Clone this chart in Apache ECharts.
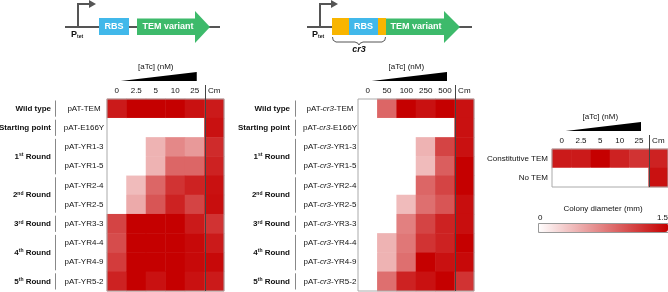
<!DOCTYPE html>
<html>
<head>
<meta charset="utf-8">
<script src="https://cdn.jsdelivr.net/npm/echarts@6/dist/echarts.min.js"></script>
<style>
  html, body { margin: 0; padding: 0; background: #fff; }
  #chart { width: 668px; height: 292px; }
</style>
</head>
<body>
<div id="chart"></div>
<script>
// column labels
const atcLow = ['0', '2.5', '5', '10', '25', 'Cm']
const atcHigh = ['0', '50', '100', '250', '500', 'Cm']

// row groups
const groupLabels = ['Wild type', 'Starting point', '1st Round', '2nd Round', '3rd Round', '4th Round', '5th Round']
const groupSizes = [1, 1, 2, 2, 1, 2, 1]

const leftStrains = ['pAT-TEM', 'pAT-E166Y', 'pAT-YR1-3', 'pAT-YR1-5', 'pAT-YR2-4', 'pAT-YR2-5', 'pAT-YR3-3', 'pAT-YR4-4', 'pAT-YR4-9', 'pAT-YR5-2']
const midStrains = ['pAT-cr3-TEM', 'pAT-cr3-E166Y', 'pAT-cr3-YR1-3', 'pAT-cr3-YR1-5', 'pAT-cr3-YR2-4', 'pAT-cr3-YR2-5', 'pAT-cr3-YR3-3', 'pAT-cr3-YR4-4', 'pAT-cr3-YR4-9', 'pAT-cr3-YR5-2']
const ctrlStrains = ['Constitutive TEM', 'No TEM']

// colony diameter (mm), one row per strain, columns as above
const leftValues = [
  [1.35, 1.5, 1.5, 1.5, 1.4, 1.35],
  [0, 0, 0, 0, 0, 1.4],
  [0, 0, 0.45, 0.7, 0.6, 1.25],
  [0, 0, 0.45, 0.9, 0.9, 1.3],
  [0, 0.4, 0.9, 1.2, 1.3, 1.4],
  [0, 0.5, 1.0, 1.3, 1.1, 1.42],
  [1.1, 1.5, 1.5, 1.5, 1.35, 1.2],
  [1.05, 1.5, 1.5, 1.5, 1.45, 1.35],
  [1.15, 1.5, 1.5, 1.5, 1.45, 1.45],
  [1.3, 1.5, 1.4, 1.5, 1.4, 1.35]
]
const midValues = [
  [0, 0.9, 1.5, 1.4, 1.5, 1.4],
  [0, 0, 0, 0, 0, 1.4],
  [0, 0, 0, 0.45, 1.1, 1.4],
  [0, 0, 0, 0.4, 0.95, 1.5],
  [0, 0, 0, 0.9, 1.1, 1.5],
  [0, 0, 0.4, 0.85, 1.0, 1.42],
  [0, 0, 0.75, 1.1, 1.3, 1.42],
  [0, 0.45, 0.8, 1.2, 1.3, 1.5],
  [0, 0.45, 0.85, 1.5, 1.4, 1.45],
  [0, 0.85, 1.3, 1.4, 1.5, 1.2]
]
const ctrlValues = [
  [1.35, 1.35, 1.5, 1.3, 1.2, 1.3],
  [0, 0, 0, 0, 0, 1.4]
]

const FONT = '"Liberation Sans", Helvetica, Arial, sans-serif'
const RED = '#c50000'
const GREY = '#555'

const toCells = (rows) => {
  const out = []
  rows.forEach((row, y) => row.forEach((v, x) => out.push([x, y, v])))
  return out
}

const supRich = {
  b: { fontSize: 8, fontWeight: 'bold', fontFamily: FONT, color: '#111' },
  s: { fontSize: 5, fontWeight: 'bold', fontFamily: FONT, color: '#111', verticalAlign: 'top', padding: [0, 0, 3, 0] }
}
const groupText = (t) => {
  const m = t.match(/^(\d)(st|nd|rd|th)(.*)$/)
  if (!m) return '{b|' + t + '}'
  return '{b|' + m[1] + '}{s|' + m[2] + '}{b|' + m[3] + '}'
}

const gridDefs = [
  { left: 107, top: 99, width: 117, height: 192 },
  { left: 358, top: 99, width: 116, height: 192 },
  { left: 552, top: 149, width: 116, height: 38 }
]

const xAxisOf = (idx, data) => ({
  type: 'category', gridIndex: idx, data: data, position: 'top',
  axisLine: { show: false }, axisTick: { show: false }, splitLine: { show: false },
  axisLabel: { margin: 4, fontSize: 8, fontFamily: FONT, color: '#111' }
})
const yAxisOf = (idx, data, opts) => ({
  type: 'category', gridIndex: idx, data: data, inverse: true,
  axisLine: { show: false }, axisTick: { show: false }, splitLine: { show: false },
  axisLabel: Object.assign({
    fontSize: 8, fontFamily: FONT, color: '#111',
    formatter: (v) => v.replace('cr3', '{i|cr3}'),
    rich: { i: { fontSize: 8, fontFamily: FONT, fontStyle: 'italic', color: '#111' } }
  }, opts)
})

const chart = echarts.init(document.getElementById('chart'), null, { renderer: 'canvas' })

chart.setOption({
  animation: false,
  backgroundColor: '#fff',
  grid: gridDefs.map(g => Object.assign({
    show: true, z: 5, backgroundColor: 'transparent', borderColor: '#aaa', borderWidth: 1
  }, g)),
  xAxis: [xAxisOf(0, atcLow), xAxisOf(1, atcHigh), xAxisOf(2, atcLow)],
  yAxis: [
    yAxisOf(0, leftStrains, { align: 'center', margin: 23 }),
    yAxisOf(1, midStrains, { align: 'center', margin: 28 }),
    yAxisOf(2, ctrlStrains, { margin: 4 })
  ],
  visualMap: {
    type: 'continuous', min: 0, max: 1.5, seriesIndex: [0, 1, 2],
    orient: 'horizontal', left: 538, top: 223, itemWidth: 9, itemHeight: 130,
    padding: 0, calculable: false, text: null, showLabel: false,
    inRange: { color: ['#ffffff', RED] }
  },
  series: [
    { type: 'heatmap', xAxisIndex: 0, yAxisIndex: 0, data: toCells(leftValues), emphasis: { disabled: true } },
    { type: 'heatmap', xAxisIndex: 1, yAxisIndex: 1, data: toCells(midValues), emphasis: { disabled: true } },
    { type: 'heatmap', xAxisIndex: 2, yAxisIndex: 2, data: toCells(ctrlValues), emphasis: { disabled: true } }
  ]
})

const txt = (x, y, text, font, align, extra) => ({
  type: 'text', x: x, y: y, z: 20, silent: true,
  style: Object.assign({
    text: text, font: font, fill: '#111',
    align: align || 'center', verticalAlign: 'middle',
    textAlign: align || 'center', textVerticalAlign: 'middle'
  }, extra || {})
})

const graphics = []

// heatmap decorations: wedge, [aTc] title, Cm separator, group labels
gridDefs.forEach((g, gi) => {
  const c0 = chart.convertToPixel({ xAxisIndex: gi }, 0)
  const c4 = chart.convertToPixel({ xAxisIndex: gi }, 4)
  const c5 = chart.convertToPixel({ xAxisIndex: gi }, 5)
  const x0 = c0 + 4, x1 = c4 + 2
  graphics.push({
    type: 'polygon', z: 20, silent: true,
    shape: { points: [[x0, g.top - 18], [x1, g.top - 27], [x1, g.top - 18]] },
    style: { fill: '#000' }
  })
  graphics.push(txt((x0 + x1) / 2 - 3, g.top - 32, '[aTc] (nM)', '8px ' + FONT))
  const sx = Math.round((c4 + c5) / 2) + 0.5
  graphics.push({
    type: 'line', z: 20, silent: true,
    shape: { x1: sx, y1: g.top - 14, x2: sx, y2: g.top + g.height },
    style: { stroke: '#444', lineWidth: 1 }
  })
})

const groupAnchors = [{ label: 51, line: 55.5 }, { label: 290, line: 295.5 }]
groupAnchors.forEach((a, gi) => {
  let row = 0
  const rowH = gridDefs[gi].height / leftStrains.length
  groupLabels.forEach((lab, k) => {
    const n = groupSizes[k]
    const yTop = gridDefs[gi].top + row * rowH
    const yBot = yTop + n * rowH
    graphics.push({
      type: 'line', z: 20, silent: true,
      shape: { x1: a.line, y1: yTop + 1.5, x2: a.line, y2: yBot - 1.5 },
      style: { stroke: '#888', lineWidth: 1 }
    })
    graphics.push(txt(a.label, (yTop + yBot) / 2, groupText(lab), 'bold 8px ' + FONT, 'right', { rich: supRich }))
    row += n
  })
})

// colour bar labels
graphics.push(txt(603, 209, 'Colony diameter (mm)', '8px ' + FONT))
graphics.push(txt(538, 218, '0', '8px ' + FONT, 'left'))
graphics.push(txt(668, 218, '1.5', '8px ' + FONT, 'right'))
graphics.push({
  type: 'rect', z: 20, silent: true,
  shape: { x: 538.5, y: 223.5, width: 130, height: 9 },
  style: { fill: 'none', stroke: '#999', lineWidth: 1 }
})

// construct diagrams
const BLUE = '#41b8ea', GREEN = '#3dba6b', ORANGE = '#f8b500'
const ptet = (x, y) => txt(x, y, '{p|P}{t|tet}', 'bold 9px ' + FONT, 'left', {
  rich: {
    p: { fontSize: 9, fontWeight: 'bold', fontFamily: FONT, fill: '#111' },
    t: { fontSize: 5, fontWeight: 'bold', fontFamily: FONT, fill: '#111', verticalAlign: 'bottom', padding: [3, 0, 0, 0] }
  }
})
const promoter = (x, xe) => [
  { type: 'polyline', z: 20, silent: true, shape: { points: [[x, 27], [x, 4], [xe, 4]] }, style: { stroke: GREY, lineWidth: 2, fill: null } },
  { type: 'polygon', z: 20, silent: true, shape: { points: [[xe - 1, 0], [xe + 6, 4], [xe - 1, 8]] }, style: { fill: GREY } }
]
const box = (x, w, color) => ({ type: 'rect', z: 20, silent: true, shape: { x: x, y: 18, width: w, height: 17 }, style: { fill: color } })
const tem = (x, xh, xt) => ({
  type: 'polygon', z: 20, silent: true,
  shape: { points: [[x, 18.5], [xh, 18.5], [xh, 11], [xt, 27], [xh, 43], [xh, 35], [x, 35]] },
  style: { fill: GREEN }
})
const white = (x, t) => txt(x, 27, t, 'bold 9px ' + FONT, 'center', { fill: '#fff' })

graphics.push({ type: 'line', z: 19, silent: true, shape: { x1: 65, y1: 27, x2: 220, y2: 27 }, style: { stroke: GREY, lineWidth: 2 } })
graphics.push(...promoter(78, 90))
graphics.push(box(99, 30, BLUE), white(114, 'RBS'))
graphics.push(tem(137, 195, 210), white(168, 'TEM variant'))
graphics.push(ptet(71, 35))

graphics.push({ type: 'line', z: 19, silent: true, shape: { x1: 307, y1: 27, x2: 472, y2: 27 }, style: { stroke: GREY, lineWidth: 2 } })
graphics.push(...promoter(320, 332))
graphics.push(box(332, 17, ORANGE), box(349, 29, BLUE), box(378, 8, ORANGE), white(363.5, 'RBS'))
graphics.push(tem(386, 444, 460), white(416, 'TEM variant'))
graphics.push(ptet(312, 35))
graphics.push({
  type: 'polyline', z: 20, silent: true,
  shape: {
    points: [[332.5, 37], [333.2, 40.3], [336, 42], [355, 42], [358, 43.3], [359, 45],
      [360, 43.3], [363, 42], [382, 42], [384.8, 40.3], [385.5, 37]]
  },
  style: { stroke: GREY, lineWidth: 1, fill: null }
})
graphics.push(txt(359, 50, 'cr3', 'italic bold 9px ' + FONT))

chart.setOption({ graphic: graphics })
</script>
</body>
</html>
